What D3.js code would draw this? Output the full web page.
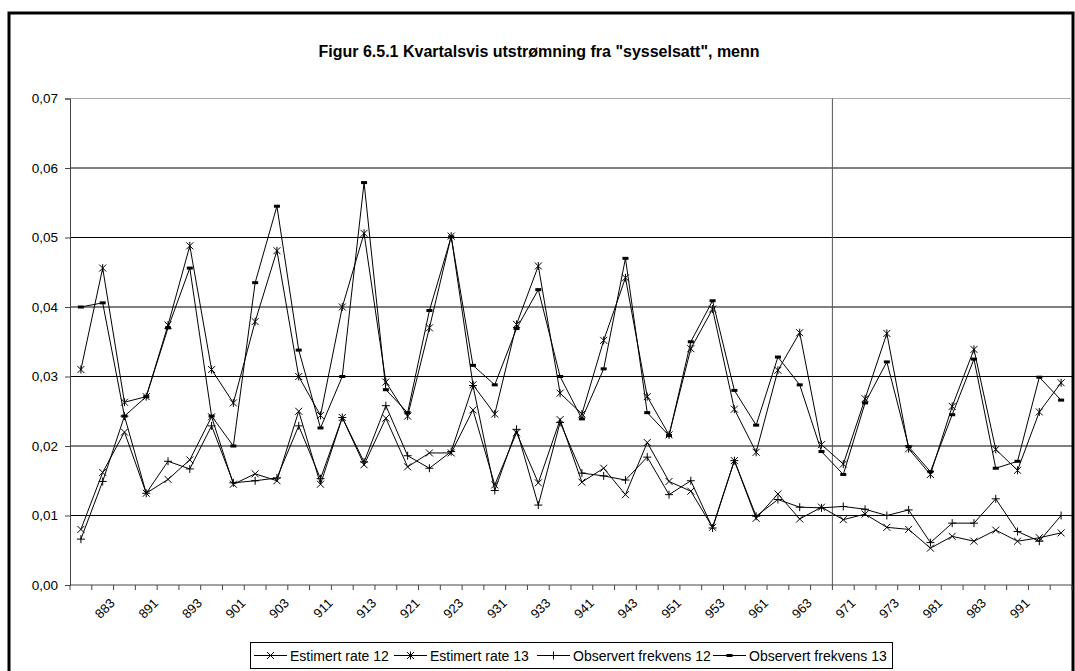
<!DOCTYPE html>
<html>
<head>
<meta charset="utf-8">
<script src="https://cdn.jsdelivr.net/npm/d3@7"></script>
<style>
  body { margin: 0; background: #fff; }
  svg text { font-family: "Liberation Sans", Arial, sans-serif; fill: #000; }
</style>
</head>
<body>
<div id="chart"></div>
<script>
// kvartaler 882 .. 993
const categories = ["882","883","884","891","892","893","894","901","902","903","904",
  "911","912","913","914","921","922","923","924","931","932","933","934",
  "941","942","943","944","951","952","953","954","961","962","963","964",
  "971","972","973","974","981","982","983","984","991","992","993"];
const tickLabels = ["883","891","893","901","903","911","913","921","923","931","933",
  "941","943","951","953","961","963","971","973","981","983","991"];
const yTicks = [0, 0.01, 0.02, 0.03, 0.04, 0.05, 0.06, 0.07];

const estRate12 = [0.0080,0.0162,0.0220,0.0132,0.0152,0.0180,0.0242,0.0145,0.0160,0.0150,0.0250,
  0.0145,0.0241,0.0173,0.0240,0.0170,0.0190,0.0190,0.0252,0.0144,0.0219,0.0147,0.0238,
  0.0148,0.0168,0.0130,0.0205,0.0149,0.0135,0.0083,0.0179,0.0096,0.0131,0.0095,0.0112,
  0.0094,0.0102,0.0083,0.0080,0.0053,0.0070,0.0063,0.0079,0.0063,0.0068,0.0075];
const estRate13 = [0.0310,0.0456,0.0263,0.0271,0.0374,0.0488,0.0310,0.0262,0.0379,0.0481,0.0300,
  0.0244,0.0400,0.0506,0.0292,0.0243,0.0370,0.0502,0.0288,0.0246,0.0375,0.0459,0.0276,
  0.0246,0.0352,0.0442,0.0271,0.0216,0.0340,0.0397,0.0253,0.0191,0.0309,0.0363,0.0202,
  0.0174,0.0268,0.0362,0.0196,0.0159,0.0257,0.0339,0.0195,0.0165,0.0249,0.0291];
const obsFrek12 = [0.0066,0.0149,0.0243,0.0132,0.0178,0.0167,0.0229,0.0147,0.0150,0.0154,0.0229,
  0.0153,0.0241,0.0177,0.0258,0.0186,0.0168,0.0192,0.0287,0.0136,0.0224,0.0115,0.0234,
  0.0161,0.0157,0.0151,0.0184,0.0130,0.0150,0.0082,0.0179,0.0099,0.0123,0.0112,0.0111,
  0.0113,0.0109,0.0100,0.0108,0.0061,0.0089,0.0089,0.0124,0.0077,0.0063,0.0100];
const obsFrek13 = [0.0400,0.0406,0.0243,0.0271,0.0370,0.0456,0.0243,0.0200,0.0435,0.0545,0.0338,
  0.0226,0.0300,0.0579,0.0281,0.0248,0.0395,0.0501,0.0316,0.0288,0.0369,0.0425,0.0300,
  0.0239,0.0311,0.0470,0.0248,0.0215,0.0350,0.0409,0.0280,0.0230,0.0328,0.0288,0.0192,
  0.0159,0.0262,0.0321,0.0199,0.0163,0.0245,0.0325,0.0168,0.0178,0.0299,0.0266];

const seriesNames = ["Estimert rate 12", "Estimert rate 13", "Observert frekvens 12", "Observert frekvens 13"];
const series = [
  { name: seriesNames[0], values: estRate12, marker: "x" },
  { name: seriesNames[1], values: estRate13, marker: "star" },
  { name: seriesNames[2], values: obsFrek12, marker: "plus" },
  { name: seriesNames[3], values: obsFrek13, marker: "bar" }
];
const splitAt = "971";  // loddrett strek foran 1997

const width = 1075, height = 671;
const plotLeft = 70, plotRight = 1072, plotTop = 98.5, plotBottom = 585;

const svg = d3.select("#chart").append("svg")
  .attr("width", width)
  .attr("height", height);

// ytre ramme
svg.append("rect")
  .attr("x", 9).attr("y", 13)
  .attr("width", 1064).attr("height", 700)
  .attr("fill", "none")
  .attr("stroke", "#000")
  .attr("stroke-width", 3);

svg.append("text")
  .attr("x", 539).attr("y", 57)
  .attr("text-anchor", "middle")
  .attr("font-size", 16)
  .attr("font-weight", "bold")
  .text('Figur 6.5.1 Kvartalsvis utstrømning fra "sysselsatt", menn');

const x = d3.scaleBand().domain(categories).range([plotLeft, plotRight]);
const y = d3.scaleLinear().domain([0, 0.07]).range([plotBottom, plotTop]);
const cx = d => x(d) + x.bandwidth() / 2;

// rutenett
svg.append("g")
  .selectAll("line")
  .data(yTicks.slice(1))
  .join("line")
  .attr("x1", plotLeft).attr("x2", plotRight)
  .attr("y1", d => y(d)).attr("y2", d => y(d))
  .attr("stroke", (d, i) => i === yTicks.length - 2 ? "#aaa" : "#000")
  .attr("stroke-width", 1);

// y-akse
const yAxis = d3.axisLeft(y)
  .tickValues(yTicks)
  .tickSize(5)
  .tickPadding(7)
  .tickFormat(d => d3.format(".2f")(d).replace(".", ","));
const gy = svg.append("g").attr("transform", `translate(${plotLeft},0)`).call(yAxis);
gy.select(".domain").attr("stroke", "#444");
gy.selectAll(".tick line").attr("stroke", "#444");
gy.selectAll("text").attr("font-size", 13.5).attr("font-family", "Liberation Sans, Arial, sans-serif");

// x-akse
const gx = svg.append("g").attr("transform", `translate(0,${plotBottom})`);
gx.append("line")
  .attr("x1", plotLeft).attr("x2", plotRight)
  .attr("stroke", "#444");
gx.selectAll("line.tick")
  .data(categories.concat([null]))
  .join("line")
  .attr("class", "tick")
  .attr("x1", d => d === null ? plotRight : x(d))
  .attr("x2", d => d === null ? plotRight : x(d))
  .attr("y1", 0).attr("y2", 5)
  .attr("stroke", "#444");
gx.selectAll("text")
  .data(tickLabels)
  .join("text")
  .attr("transform", d => `translate(${cx(d) + 13},${19}) rotate(-45)`)
  .attr("text-anchor", "end")
  .attr("font-size", 13)
  .text(d => d);

// loddrett skillelinje
svg.append("line")
  .attr("x1", x(splitAt)).attr("x2", x(splitAt))
  .attr("y1", plotTop).attr("y2", plotBottom)
  .attr("stroke", "#555")
  .attr("stroke-width", 1);

function drawMarker(g, type) {
  if (type === "bar") {
    g.append("rect").attr("x", -3).attr("y", -1.5).attr("width", 6).attr("height", 3).attr("fill", "#000");
    return;
  }
  let p = "";
  if (type === "x" || type === "star") p += "M-3.5,-3.5L3.5,3.5M-3.5,3.5L3.5,-3.5";
  if (type === "star") p += "M0,-4L0,4";
  if (type === "plus") p += "M-4,0L4,0M0,-4L0,4";
  g.append("path").attr("d", p).attr("stroke", "#000").attr("stroke-width", 1).attr("fill", "none");
}

const line = d3.line()
  .x((d, i) => cx(categories[i]))
  .y(d => y(d));

series.forEach(s => {
  svg.append("path")
    .datum(s.values)
    .attr("d", line)
    .attr("fill", "none")
    .attr("stroke", "#000")
    .attr("stroke-width", 1);
  svg.append("g")
    .selectAll("g")
    .data(s.values)
    .join("g")
    .attr("transform", (d, i) => `translate(${cx(categories[i])},${y(d)})`)
    .each(function () { drawMarker(d3.select(this), s.marker); });
});

// tegnforklaring
const legend = svg.append("g");
legend.append("rect")
  .attr("x", 250.5).attr("y", 642.5)
  .attr("width", 642).attr("height", 26)
  .attr("fill", "#fff")
  .attr("stroke", "#000");
const itemX = [254, 394, 537, 713];
series.forEach((s, i) => {
  const g = legend.append("g").attr("transform", `translate(${itemX[i]},655.5)`);
  g.append("line").attr("x1", 0).attr("x2", 33).attr("stroke", "#000");
  drawMarker(g.append("g").attr("transform", "translate(16.5,0)"), s.marker);
  g.append("text").attr("x", 36).attr("y", 5).attr("font-size", 14).text(s.name);
});
</script>
</body>
</html>
